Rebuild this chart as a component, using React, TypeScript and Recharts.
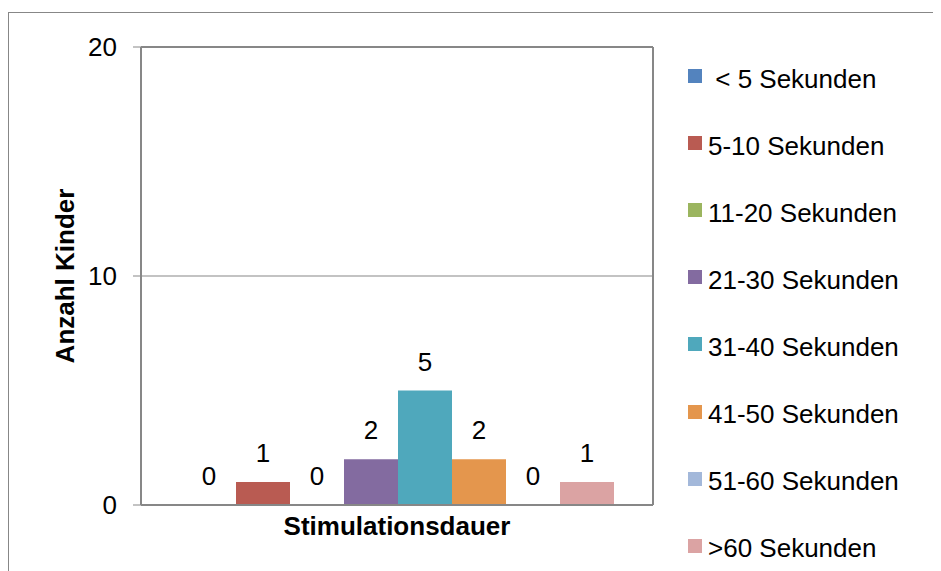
import React from 'react';
import { BarChart, Bar, XAxis, YAxis, CartesianGrid, Legend, LabelList, ReferenceLine } from 'recharts';

const categories = ['Stimulationsdauer'];
const seriesNames = [
  ' < 5 Sekunden',
  '5-10 Sekunden',
  '11-20 Sekunden',
  '21-30 Sekunden',
  '31-40 Sekunden',
  '41-50 Sekunden',
  '51-60 Sekunden',
  '>60 Sekunden',
];
const seriesValues = [0, 1, 0, 2, 5, 2, 0, 1];
const seriesColors = ['#5383BE', '#B95B52', '#9BB55F', '#836BA0', '#4FA8BC', '#E4964D', '#A3B8DA', '#DBA3A3'];
const yTicks = [0, 10, 20];

const FONT = '"Liberation Sans", Arial, sans-serif';
const GRAY = '#878787';

const data = categories.map((name) => {
  const row: Record<string, string | number> = { name };
  seriesValues.forEach((v, i) => {
    row[`s${i}`] = v;
  });
  return row;
});

// keep the legend in series order (Recharts sorts by name otherwise)
function LegendList(props: any) {
  const items = [...(props.payload || [])].sort(
    (a: any, b: any) => seriesNames.indexOf(a.value) - seriesNames.indexOf(b.value)
  );
  return (
    <div style={{ fontFamily: FONT, fontSize: 26 }}>
      {items.map((item: any) => (
        <div key={item.value} style={{ height: 67.1, display: 'flex', alignItems: 'center' }}>
          <span
            style={{
              width: 14,
              height: 14,
              background: item.color,
              display: 'inline-block',
              position: 'relative',
              top: -3,
            }}
          />
          <span style={{ marginLeft: 6, whiteSpace: 'pre', color: '#000' }}>{item.value}</span>
        </div>
      ))}
    </div>
  );
}

// value label drawn above each bar, also for zero-height bars
function ValueLabel(props: any) {
  const { x, y, width, value } = props;
  if (x == null || y == null) return null;
  return (
    <text
      x={Number(x) + Number(width) / 2}
      y={Number(y) - 20}
      textAnchor="middle"
      fill="#000"
      fontSize={26}
      fontFamily={FONT}
    >
      {value}
    </text>
  );
}

export default function App() {
  return (
    <div style={{ position: 'relative', width: 933, height: 563, fontFamily: FONT }}>
      <div
        style={{
          position: 'absolute',
          left: 0,
          top: 4,
          width: 933,
          height: 559,
          borderTop: `1px solid ${GRAY}`,
          borderLeft: `1px solid ${GRAY}`,
          boxSizing: 'border-box',
        }}
      />
      <BarChart
        width={933}
        height={563}
        data={data}
        margin={{ top: 39, right: 288, bottom: 0, left: 0 }}
        barGap={0}
        barCategoryGap={41}
        style={{ position: 'absolute', left: 0, top: 0 }}
      >
        <CartesianGrid horizontal vertical={false} stroke={GRAY} strokeWidth={1} />
        <CartesianGrid
          horizontal={false}
          vertical
          stroke={GRAY}
          strokeWidth={2}
          verticalCoordinatesGenerator={({ offset }: any) => [offset.left + offset.width]}
        />
        <XAxis
          dataKey="name"
          tick={false}
          tickLine={false}
          height={66}
          axisLine={{ stroke: GRAY, strokeWidth: 2 }}
          label={{
            value: 'Stimulationsdauer',
            position: 'center',
            dy: -12,
            style: { fontFamily: FONT, fontSize: 26, fontWeight: 'bold', fill: '#000' },
          }}
        />
        <YAxis
          domain={[0, 20]}
          ticks={yTicks}
          interval={0}
          width={133}
          tickSize={8}
          tickMargin={16}
          axisLine={{ stroke: GRAY, strokeWidth: 2 }}
          tickLine={{ stroke: GRAY }}
          tick={{ fill: '#000', fontSize: 26, fontFamily: FONT }}
          label={{
            value: 'Anzahl Kinder',
            angle: -90,
            position: 'center',
            dx: -9.5,
            style: { fontFamily: FONT, fontSize: 26, fontWeight: 'bold', fill: '#000', textAnchor: 'middle' },
          }}
        />
        <ReferenceLine y={20} stroke={GRAY} strokeWidth={2} />
        {seriesNames.map((name, i) => (
          <Bar
            key={name}
            dataKey={`s${i}`}
            name={name}
            fill={seriesColors[i]}
            minPointSize={0.01}
            isAnimationActive={false}
          >
            <LabelList dataKey={`s${i}`} content={ValueLabel} />
          </Bar>
        ))}
        <Legend
          layout="vertical"
          align="center"
          verticalAlign="middle"
          content={LegendList}
          wrapperStyle={{ left: 680, top: 37.5, width: 250 }}
        />
      </BarChart>
    </div>
  );
}
